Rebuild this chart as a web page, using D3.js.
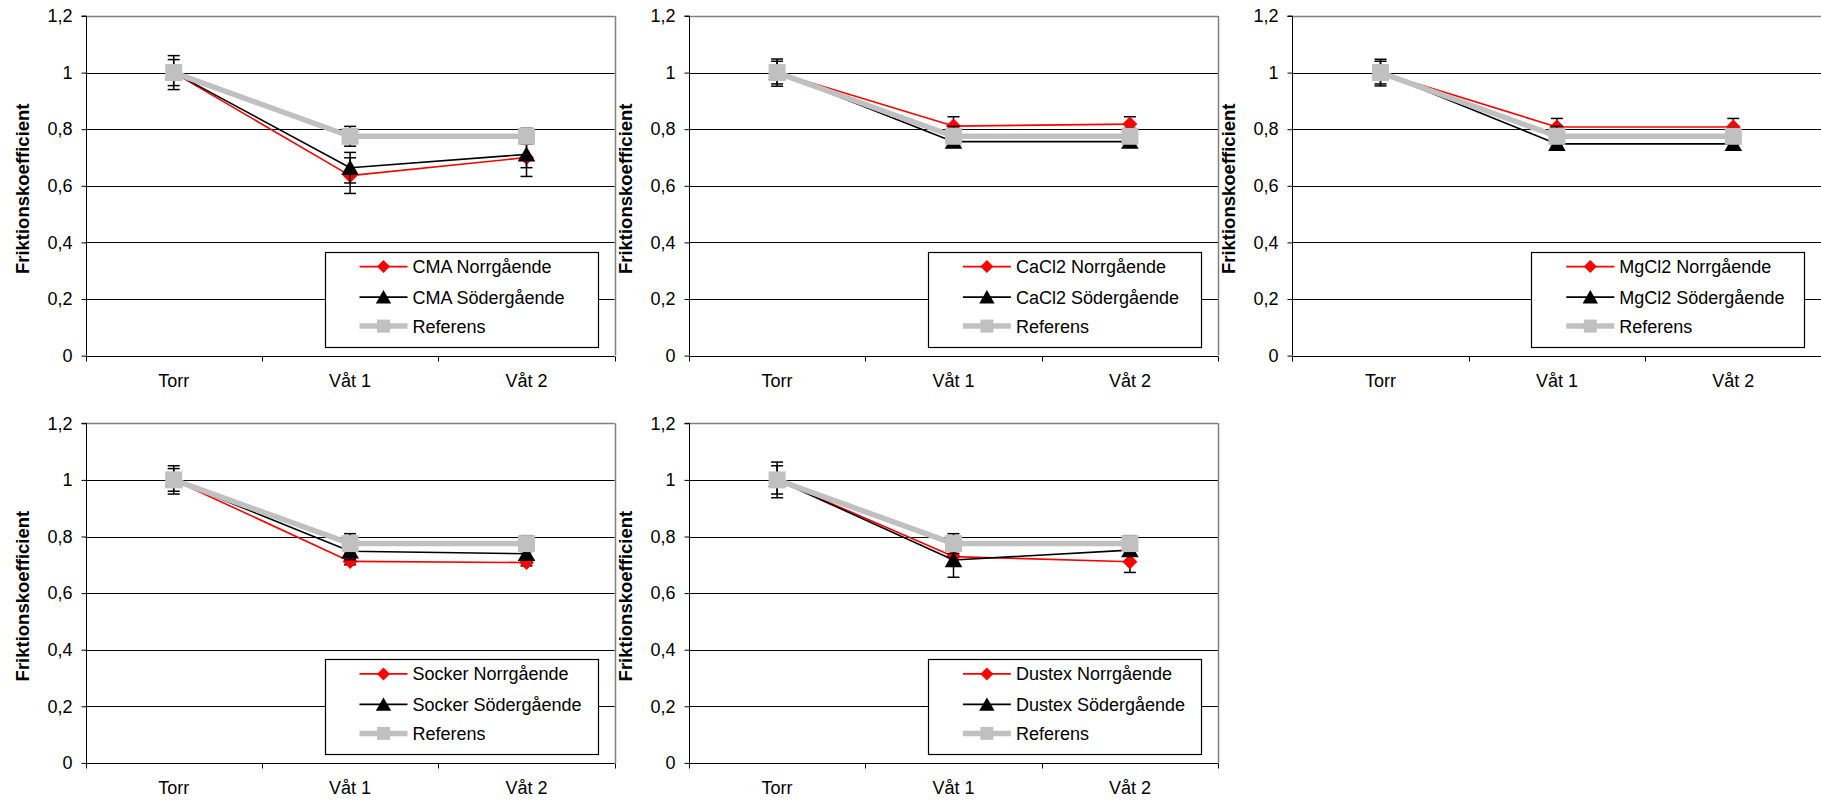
<!DOCTYPE html>
<html>
<head>
<meta charset="utf-8">
<script src="https://cdn.jsdelivr.net/npm/d3@7"></script>
<style>
  html, body { margin: 0; padding: 0; background: #fff; }
  svg { display: block; font-family: "Liberation Sans", Arial, sans-serif; }
</style>
</head>
<body>
<svg id="chart" width="1821" height="801"></svg>
<script>
// Friktionskoefficient per halkbekämpningsmedel, torr och våt vägbana
const categories = ["Torr", "Våt 1", "Våt 2"];
const yTicks = [0, 0.2, 0.4, 0.6, 0.8, 1.0, 1.2];
const products = ["CMA", "CaCl2", "MgCl2", "Socker", "Dustex"];

// Norrgående körriktning (medelvärde och felstapel)
const norrCMA = [1.0, 0.636, 0.700];
const norrCaCl2 = [1.0, 0.811, 0.818];
const norrMgCl2 = [1.0, 0.808, 0.808];
const norrSocker = [1.0, 0.712, 0.708];
const norrDustex = [1.0, 0.729, 0.711];
const norrErrCMA = [0.060, 0.063, 0.067];
const norrErrCaCl2 = [0.048, 0.033, 0.026];
const norrErrMgCl2 = [0.047, 0.030, 0.030];
const norrErrSocker = [0.050, 0.012, 0.012];
const norrErrDustex = [0.063, 0.030, 0.038];

// Södergående körriktning
const soderCMA = [1.0, 0.664, 0.711];
const soderCaCl2 = [1.0, 0.756, 0.756];
const soderMgCl2 = [1.0, 0.748, 0.748];
const soderSocker = [1.0, 0.748, 0.739];
const soderDustex = [1.0, 0.717, 0.752];
const soderErrCMA = [0.046, 0.054, 0.047];
const soderErrCaCl2 = [0.040, 0.020, 0.020];
const soderErrMgCl2 = [0.040, 0.020, 0.020];
const soderErrSocker = [0.040, 0.030, 0.020];
const soderErrDustex = [0.050, 0.061, 0.020];

// Referensyta
const referens = [1.0, 0.775, 0.775];
const referensErr = [0.025, 0.035, 0.028];

const norrValues = [norrCMA, norrCaCl2, norrMgCl2, norrSocker, norrDustex];
const norrErrors = [norrErrCMA, norrErrCaCl2, norrErrMgCl2, norrErrSocker, norrErrDustex];
const soderValues = [soderCMA, soderCaCl2, soderMgCl2, soderSocker, soderDustex];
const soderErrors = [soderErrCMA, soderErrCaCl2, soderErrMgCl2, soderErrSocker, soderErrDustex];

const svg = d3.select("#chart");
const fmt = d3.formatLocale({decimal: ",", thousands: " ", grouping: [3], currency: ["", " kr"]}).format("~g");

const colX0 = 85.5, colStep = 603.4, plotW = 529.2;
const rowTop = [16, 423.3], plotH = 339.6;

const RED = "#ff0000", BLACK = "#000000", GREY = "#c0c0c0";

function markerPath(kind, s) {
  if (kind === "diamond") return `M0,${-s/2}L${s/2},0L0,${s/2}L${-s/2},0Z`;
  if (kind === "triangle") return `M0,${-s*0.5}L${s*0.55},${s*0.45}L${-s*0.55},${s*0.45}Z`;
  return `M${-s/2},${-s/2}H${s/2}V${s/2}H${-s/2}Z`;
}

function drawPanel(i) {
  const col = i % 3, row = Math.floor(i / 3);
  const x0 = colX0 + col * colStep, x1 = x0 + plotW;
  const top = rowTop[row], bottom = top + plotH;
  const g = svg.append("g");

  const x = d3.scaleBand().domain(categories).range([x0, x1]).padding(0);
  const cx = c => x(c) + x.bandwidth() / 2;
  const y = d3.scaleLinear().domain([0, 1.2]).range([bottom, top]);

  // gridlines
  g.selectAll("line.grid").data(yTicks.filter(t => t > 0 && t < 1.2)).join("line")
    .attr("x1", x0).attr("x2", x1)
    .attr("y1", d => Math.round(y(d)) + 0.5).attr("y2", d => Math.round(y(d)) + 0.5)
    .attr("stroke", "#000").attr("stroke-width", 1);

  // plot border (top and right)
  g.append("line").attr("x1", x0).attr("x2", x1)
    .attr("y1", Math.round(y(1.2)) + 0.5).attr("y2", Math.round(y(1.2)) + 0.5)
    .attr("stroke", "#808080").attr("stroke-width", 1.5);
  g.append("line").attr("x1", Math.round(x1) + 0.5).attr("x2", Math.round(x1) + 0.5)
    .attr("y1", y(1.2)).attr("y2", y(0))
    .attr("stroke", "#808080").attr("stroke-width", 1.5);

  // y axis
  const yAxis = d3.axisLeft(y).tickValues(yTicks).tickFormat(fmt).tickSize(5).tickPadding(9);
  const ya = g.append("g").attr("transform", `translate(${Math.round(x0) + 0.5},0)`).call(yAxis);
  ya.select(".domain").attr("stroke", "#000").attr("d", `M-5,${y(1.2)}H0V${y(0)}`);
  ya.selectAll(".tick line").attr("stroke", "#000");
  ya.selectAll(".tick text").attr("font-size", 18).attr("fill", "#000")
    .attr("font-family", "'Liberation Sans', Arial, sans-serif");

  // x axis: line, ticks at category boundaries, labels at centres
  const yb = Math.round(y(0)) + 0.5;
  g.append("line").attr("x1", x0).attr("x2", x1).attr("y1", yb).attr("y2", yb)
    .attr("stroke", "#000").attr("stroke-width", 1.2);
  const bounds = categories.map(c => x(c)).concat([x1]);
  g.selectAll("line.xtick").data(bounds).join("line")
    .attr("x1", d => Math.round(d) + 0.5).attr("x2", d => Math.round(d) + 0.5)
    .attr("y1", yb).attr("y2", yb + 5).attr("stroke", "#000");
  g.selectAll("text.xlab").data(categories).join("text")
    .attr("x", d => cx(d)).attr("y", y(0) + 31.5)
    .attr("text-anchor", "middle").attr("font-size", 18).attr("fill", "#000")
    .text(d => d);

  // y axis title
  g.append("text")
    .attr("transform", `translate(${x0 - 57},${(top + bottom) / 2 + 3}) rotate(-90)`)
    .attr("text-anchor", "middle").attr("font-size", 18.5).attr("font-weight", "bold")
    .attr("fill", "#000").text("Friktionskoefficient");

  const series = [
    {name: products[i] + " Norrgående", values: norrValues[i], errs: norrErrors[i], color: RED, width: 1.6, marker: "diamond", size: 15},
    {name: products[i] + " Södergående", values: soderValues[i], errs: soderErrors[i], color: BLACK, width: 1.6, marker: "triangle", size: 16},
    {name: "Referens", values: referens, errs: referensErr, color: GREY, width: 5.5, marker: "square", size: 17}
  ];

  const line = d3.line().x((d, k) => cx(categories[k])).y(d => y(d));

  series.forEach(s => {
    const eb = g.append("g");
    s.values.forEach((v, k) => {
      const xc = cx(categories[k]);
      const hi = y(v + s.errs[k]), lo = y(v - s.errs[k]);
      eb.append("line").attr("x1", xc).attr("x2", xc).attr("y1", hi).attr("y2", lo)
        .attr("stroke", "#000").attr("stroke-width", 1.5);
      [hi, lo].forEach(yy => eb.append("line")
        .attr("x1", xc - 6).attr("x2", xc + 6).attr("y1", yy).attr("y2", yy)
        .attr("stroke", "#000").attr("stroke-width", 1.5));
    });
    g.append("path").datum(s.values).attr("d", line)
      .attr("fill", "none").attr("stroke", s.color).attr("stroke-width", s.width)
      .attr("stroke-linejoin", "round");
    g.selectAll(null).data(s.values).join("path")
      .attr("transform", (d, k) => `translate(${cx(categories[k])},${y(d)})`)
      .attr("d", markerPath(s.marker, s.size)).attr("fill", s.color);
  });

  // legend
  const lx0 = x0 + 239, lx1 = x0 + 512;
  const ly1 = bottom - 9, ly0 = bottom - 104;
  const lg = g.append("g");
  lg.append("rect").attr("x", Math.round(lx0) + 0.5).attr("y", Math.round(ly0) + 0.5)
    .attr("width", Math.round(lx1 - lx0)).attr("height", Math.round(ly1 - ly0))
    .attr("fill", "#fff").attr("stroke", "#000").attr("stroke-width", 1.2);
  const rowY = [bottom - 89, bottom - 58.5, bottom - 29.5];
  series.forEach((s, k) => {
    const ry = rowY[k];
    lg.append("line").attr("x1", lx0 + 35).attr("x2", lx0 + 83).attr("y1", ry).attr("y2", ry)
      .attr("stroke", s.color).attr("stroke-width", s.width);
    lg.append("path").attr("transform", `translate(${lx0 + 59},${ry})`)
      .attr("d", markerPath(s.marker, s.marker === "triangle" ? 14 : 13)).attr("fill", s.color);
    lg.append("text").attr("x", lx0 + 88).attr("y", ry).attr("dy", "0.36em")
      .attr("font-size", 18).attr("fill", "#000").text(s.name);
  });
}

products.forEach((p, i) => drawPanel(i));
</script>
</body>
</html>
